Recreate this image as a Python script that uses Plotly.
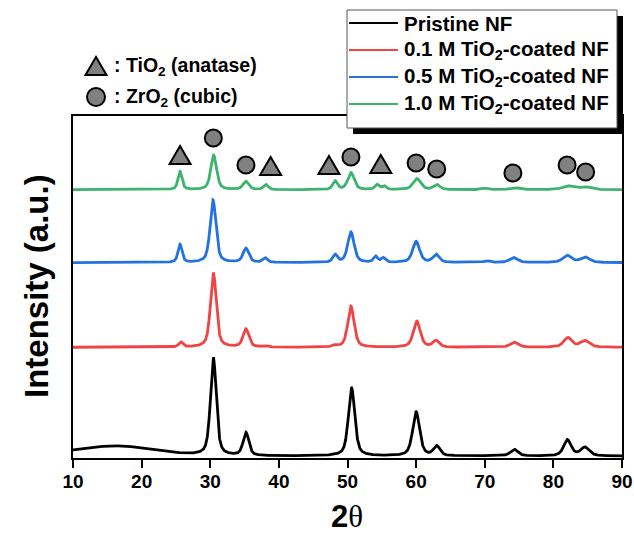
import numpy as np
import plotly.graph_objects as go

# ---------------- data ----------------
x_ticks = [10, 20, 30, 40, 50, 60, 70, 80, 90]

series_names = ["Pristine NF",
                "0.1 M TiO<sub>2</sub>-coated NF",
                "0.5 M TiO<sub>2</sub>-coated NF",
                "1.0 M TiO<sub>2</sub>-coated NF"]
series_colors = ["#000000", "#f04444", "#2272e0", "#3cb46e"]
series_offsets = [2.0, 110.7, 195.4, 268.3]   # vertical stacking offsets (a.u.)

# peak tables: position (2θ), height (a.u.), FWHM (deg)
pristine_pos = [30.45, 35.2, 50.6, 60.0, 63.0, 74.3, 82.05, 84.6]
pristine_height = [98, 23, 68, 44, 9.5, 6.5, 16, 8.5]
pristine_fwhm = [1.0, 1.0, 1.1, 1.2, 1.1, 1.3, 1.3, 1.5]
pristine_hump_pos = [16.0]      # amorphous hump
pristine_hump_height = [10.0]
pristine_hump_width = [14.0]

tio2_01_pos = [25.7, 30.45, 35.2, 38.0, 48.2, 50.5, 60.1, 62.9, 74.3, 82.1, 84.6]
tio2_01_height = [5.0, 74.5, 18, 1.5, 1.5, 41, 26, 6.5, 5, 9.5, 6.5]
tio2_01_fwhm = [0.7, 1.0, 1.0, 0.8, 0.8, 1.1, 1.2, 1.1, 1.4, 1.4, 1.6]

tio2_05_pos = [25.6, 30.4, 35.2, 38.0, 48.2, 50.5, 54.1, 55.2, 60.0, 62.9, 70.3, 74.2, 82.0, 84.6]
tio2_05_height = [18, 62.5, 14, 4.5, 7.5, 30.5, 6, 4.5, 21, 8, 1.8, 5, 7.2, 5.5]
tio2_05_fwhm = [0.7, 1.0, 1.0, 0.8, 0.8, 1.1, 0.7, 0.7, 1.2, 1.1, 1.0, 1.4, 1.5, 1.6]

tio2_10_pos = [25.6, 30.5, 35.2, 38.1, 48.2, 50.5, 54.3, 55.3, 60.1, 63.0, 70.0, 74.4, 82.1, 84.6]
tio2_10_height = [18, 34.5, 8.2, 5, 8.5, 17, 5, 3.6, 11, 5, 1.4, 2, 3.8, 2.8]
tio2_10_fwhm = [0.7, 1.0, 1.0, 0.8, 0.8, 1.1, 0.7, 0.7, 1.3, 1.1, 1.0, 1.6, 1.9, 1.9]

# phase markers (2θ, a.u.)
anatase_x = [25.6, 38.8, 47.3, 54.85]
anatase_y = [303, 292, 293, 294]
zro2_x = [30.45, 35.2, 50.5, 60.0, 63.0, 74.1, 82.0, 84.7]
zro2_y = [320, 293, 301, 295, 289, 285, 293, 286]

# ---------------- build profiles ----------------
two_theta = np.round(np.arange(10.0, 90.0001, 0.02), 3)


def profile(pos, height, fwhm, eta=0.55):
    y = np.zeros_like(two_theta)
    for p, h, w in zip(pos, height, fwhm):
        d = two_theta - p
        lor = 1.0 / (1.0 + (2 * d / w) ** 2)
        gau = np.exp(-4 * np.log(2) * (d / w) ** 2)
        y += h * (eta * lor + (1 - eta) * gau)
    return y


profiles = [
    profile(pristine_pos, pristine_height, pristine_fwhm)
    + profile(pristine_hump_pos, pristine_hump_height, pristine_hump_width, eta=0.0),
    profile(tio2_01_pos, tio2_01_height, tio2_01_fwhm),
    profile(tio2_05_pos, tio2_05_height, tio2_05_fwhm),
    profile(tio2_10_pos, tio2_10_height, tio2_10_fwhm),
]

# ---------------- figure ----------------
L, R, T, B = 73, 12, 116, 76
W, H = 634, 534
PW, PH = W - L - R, H - T - B


def px(xp):
    return (xp - L) / PW


def py(yp):
    return (H - B - yp) / PH


fig = go.Figure()
for name, col, off, prof in zip(series_names, series_colors, series_offsets, profiles):
    fig.add_trace(go.Scatter(x=two_theta, y=prof + off, mode="lines", name=name,
                             line=dict(color=col, width=2.8), showlegend=False))

fig.add_trace(go.Scatter(x=zro2_x, y=zro2_y, mode="markers", showlegend=False,
                         marker=dict(symbol="circle", size=17, color="#808080",
                                     line=dict(color="#000000", width=2))))

shapes = []
tri_path = "M-10.5,-9 L10.5,-9 L0,9 Z"
for xv, yv in zip(anatase_x, anatase_y):
    shapes.append(dict(type="path", xref="x", yref="y", xsizemode="pixel", ysizemode="pixel",
                       xanchor=xv, yanchor=yv, path=tri_path,
                       fillcolor="#808080", line=dict(color="#000000", width=2), layer="above"))

# phase key (top-left)
shapes.append(dict(type="path", xref="paper", yref="paper", xsizemode="pixel", ysizemode="pixel",
                   xanchor=px(96), yanchor=py(66), path=tri_path,
                   fillcolor="#808080", line=dict(color="#000000", width=2), layer="above"))
shapes.append(dict(type="circle", xref="paper", yref="paper", xsizemode="pixel", ysizemode="pixel",
                   xanchor=px(96), yanchor=py(97), x0=-9, x1=9, y0=-9, y1=9,
                   fillcolor="#808080", line=dict(color="#000000", width=2), layer="above"))

# series legend box with shadow (top-right)
shapes.append(dict(type="rect", xref="paper", yref="paper",
                   x0=px(353), x1=px(623), y0=py(134), y1=py(16),
                   fillcolor="#000000", line=dict(width=0), layer="above"))
shapes.append(dict(type="rect", xref="paper", yref="paper",
                   x0=px(347), x1=px(617), y0=py(128), y1=py(10),
                   fillcolor="#ffffff", line=dict(color="#555555", width=1), layer="above"))

legend_rows = [23, 50, 77, 104]
annotations = []
for name, col, yr in zip(series_names, series_colors, legend_rows):
    shapes.append(dict(type="line", xref="paper", yref="paper",
                       x0=px(349), x1=px(398), y0=py(yr), y1=py(yr),
                       line=dict(color=col, width=2), layer="above"))
    annotations.append(dict(x=px(402), y=py(yr), xref="paper", yref="paper",
                            text="<b>" + name + "</b>", showarrow=False,
                            xanchor="left", yanchor="middle",
                            font=dict(family="Liberation Sans, Arial", size=20.5, color="#000")))

annotations.append(dict(x=px(112), y=py(66), xref="paper", yref="paper",
                        text="<b>: TiO<sub>2</sub> (anatase)</b>", showarrow=False,
                        xanchor="left", yanchor="middle",
                        font=dict(family="Liberation Sans, Arial", size=19.5, color="#000")))
annotations.append(dict(x=px(112), y=py(97), xref="paper", yref="paper",
                        text="<b>: ZrO<sub>2</sub> (cubic)</b>", showarrow=False,
                        xanchor="left", yanchor="middle",
                        font=dict(family="Liberation Sans, Arial", size=19.5, color="#000")))

# axis titles
annotations.append(dict(x=px(347), y=py(516), xref="paper", yref="paper",
                        text="<b>2</b><span style='font-family:Liberation Serif'>θ</span>",
                        showarrow=False, xanchor="center", yanchor="middle",
                        font=dict(family="Liberation Sans, Arial", size=31, color="#000")))
annotations.append(dict(x=px(36), y=py(286), xref="paper", yref="paper",
                        text="<b>Intensity (a.u.)</b>", textangle=-90,
                        showarrow=False, xanchor="center", yanchor="middle",
                        font=dict(family="Liberation Sans, Arial", size=33, color="#000")))

fig.update_layout(
    width=W, height=H,
    margin=dict(l=L, r=R, t=T, b=B),
    paper_bgcolor="white", plot_bgcolor="white",
    shapes=shapes, annotations=annotations,
    xaxis=dict(range=[10, 90], tickvals=x_ticks, ticks="outside", ticklen=8, tickwidth=2,
               tickcolor="#000", showline=True, linecolor="#000", linewidth=2, mirror=True,
               showgrid=False, zeroline=False, ticklabelstandoff=-3, automargin=False,
               tickfont=dict(family="Liberation Sans, Arial", size=19, color="#000", weight="bold")),
    yaxis=dict(range=[0, 342], showticklabels=False, ticks="", showline=True, linecolor="#000",
               linewidth=2, mirror=True, showgrid=False, zeroline=False, automargin=False),
)

fig.write_html("out.html")
